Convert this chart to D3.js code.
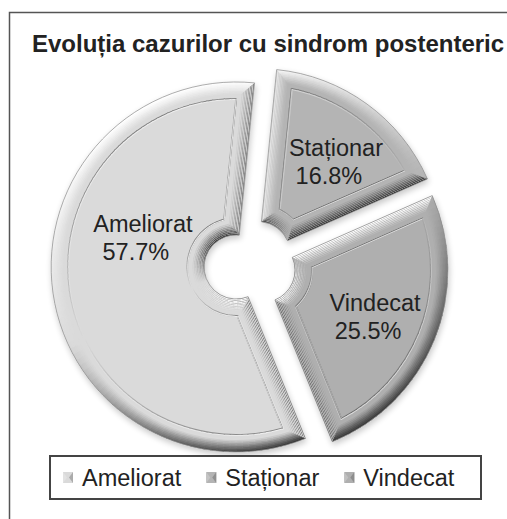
<!DOCTYPE html>
<html>
<head>
<meta charset="utf-8">
<script src="https://cdn.jsdelivr.net/npm/d3@7"></script>
<style>
  html, body { margin: 0; padding: 0; background: #fff; }
  svg { display: block; font-family: "Liberation Sans", Arial, sans-serif; }
</style>
</head>
<body>
<svg id="chart" width="507" height="519"></svg>
<script>
// data
var title = "Evoluția cazurilor cu sindrom postenteric";
var categories = ["Ameliorat", "Staționar", "Vindecat"];
var percents = [57.7, 16.8, 25.5];

var W = 507, H = 519;
var cx = 250, cy = 265, R = 185, r0 = 32, explode = 14;
var startDeg = 158;
var rad = Math.PI / 180;

var svg = d3.select("#chart");
var defs = svg.append("defs");

var color = d3.scaleOrdinal().domain(categories).range(["#dadada", "#b4b4b4", "#afafaf"]);
var fmt = function(v) { return d3.format(".1f")(v) + "%"; };

// soft shadow under the slices
var sh = defs.append("filter").attr("id", "shadow").attr("x", "-10%").attr("y", "-10%").attr("width", "120%").attr("height", "125%");
sh.append("feGaussianBlur").attr("in", "SourceAlpha").attr("stdDeviation", 3).attr("result", "b");
sh.append("feOffset").attr("in", "b").attr("dx", 1).attr("dy", 3).attr("result", "o");
sh.append("feComponentTransfer").attr("in", "o").attr("result", "s")
  .append("feFuncA").attr("type", "linear").attr("slope", 0.22);
var mg = sh.append("feMerge");
mg.append("feMergeNode").attr("in", "s");
mg.append("feMergeNode").attr("in", "SourceGraphic");

// frame
svg.append("path").attr("d", "M9.5," + H + "V12.5H" + W)
  .attr("fill", "none").attr("stroke", "#555").attr("stroke-width", 1.5);

svg.append("text").attr("x", 32).attr("y", 52)
  .attr("font-size", 24).attr("font-weight", "bold").attr("fill", "#222")
  .text(title);

var table = categories.map(function(c, i) { return { cat: c, v: percents[i] }; });
var pie = d3.pie().sort(null).value(function(d) { return d.v; })
  .startAngle(startDeg * rad).endAngle(startDeg * rad + 2 * Math.PI);
var arcs = pie(table);

// light comes from the top, a bit from the left
var light = [-0.42, -0.91];
function shade(base, nx, ny, amp) {
  var s = nx * light[0] + ny * light[1];
  return s >= 0 ? d3.interpolateRgb(base, "#ffffff")(Math.min(1, s * amp))
                : d3.interpolateRgb(base, "#3a3a3a")(Math.min(1, -s * amp));
}
function insetArc(k) {
  return d3.arc().innerRadius(r0 + k).outerRadius(R - k)
    .padAngle(k > 0 ? 0.02 : 0).padRadius(k > 0 ? k / Math.sin(0.01) : 0);
}
function pt(rr, a) { return [rr * Math.sin(a), -rr * Math.cos(a)]; }

var levels = [0, 1.5, 3, 4.5, 6, 7.5, 9, 10.5];
var amps   = [1.0, 0.88, 0.76, 0.64, 0.5, 0.36, 0.22, 0.1];
var faceInset = 12;
var clipN = 0;

function paintBand(g, d, base, k, k2, amp, sign) {
  var a0 = d.startAngle, a1 = d.endAngle;
  var id = "clip" + (clipN++);
  defs.append("clipPath").attr("id", id).append("path").attr("d", insetArc(k)(d));
  var lg = g.append("g").attr("clip-path", "url(#" + id + ")");
  var step = 2 * rad, a, b, m;
  var sector = d3.arc();
  for (a = a0; a < a1; a += step) {
    b = Math.min(a + step, a1); m = (a + b) / 2;
    lg.append("path")
      .attr("d", sector({ innerRadius: 0, outerRadius: R + 2, startAngle: a - 0.004, endAngle: b + 0.004 }))
      .attr("fill", shade(base, sign * Math.sin(m), -sign * Math.cos(m), amp));
  }
  for (a = a0; a < a1; a += step) {
    b = Math.min(a + step, a1); m = (a + b) / 2;
    lg.append("path")
      .attr("d", sector({ innerRadius: 0, outerRadius: r0 + k2, startAngle: a - 0.004, endAngle: b + 0.004 }))
      .attr("fill", shade(base, -sign * Math.sin(m), sign * Math.cos(m), amp));
  }
  [[a0, 1, [-Math.cos(a0), -Math.sin(a0)]], [a1, -1, [Math.cos(a1), Math.sin(a1)]]].forEach(function(e) {
    var an = e[0], dir = e[1], n = e[2];
    var q = [
      pt(R - k, an + dir * Math.asin(k / (R - k))),
      pt(r0 + k, an + dir * Math.asin(k / (r0 + k))),
      pt(r0 + k2, an + dir * Math.asin(k2 / (r0 + k2))),
      pt(R - k2, an + dir * Math.asin(k2 / (R - k2)))
    ];
    lg.append("path").attr("d", "M" + q.join("L") + "Z")
      .attr("fill", shade(base, sign * n[0], sign * n[1], amp));
  });
}

var slices = svg.append("g").attr("class", "slices").selectAll("g")
  .data(arcs).enter().append("g")
  .attr("filter", "url(#shadow)")
  .attr("transform", function(d) {
    var mid = (d.startAngle + d.endAngle) / 2;
    return "translate(" + (cx + explode * Math.sin(mid)) + "," + (cy - explode * Math.cos(mid)) + ")";
  });

slices.each(function(d) {
  var g = d3.select(this), base = color(d.data.cat);
  levels.forEach(function(k, li) {
    var k2 = li < levels.length - 1 ? levels[li + 1] : faceInset;
    paintBand(g, d, base, k, k2, amps[li], 1);
  });
  g.append("path").attr("d", insetArc(faceInset)(d)).attr("fill", base);
  paintBand(g, d, base, 16, 17, 0.55, -1);
  paintBand(g, d, base, 17, 18, 0.55, 1);
  g.append("path").attr("d", insetArc(18)(d)).attr("fill", base);
  g.append("path").attr("d", insetArc(0)(d)).attr("fill", "none")
    .attr("stroke", "#8a8a8a").attr("stroke-width", 0.7);
});

// data labels
var labelR = 121;
var labelTurn = { "Ameliorat": 26 * rad, "Staționar": 4 * rad };
var labelRad = { "Ameliorat": 98 };
var labels = svg.append("g").selectAll("text").data(arcs).enter().append("text")
  .attr("font-size", 23.5).attr("fill", "#222").attr("text-anchor", "middle")
  .attr("transform", function(d) {
    var mid = (d.startAngle + d.endAngle) / 2;
    var ox = cx + explode * Math.sin(mid), oy = cy - explode * Math.cos(mid);
    var a = mid + (labelTurn[d.data.cat] || 0), rr = labelRad[d.data.cat] || labelR;
    return "translate(" + (ox + rr * Math.sin(a)) + "," + (oy - rr * Math.cos(a)) + ")";
  });
labels.append("tspan").attr("x", 0).attr("y", -5).text(function(d) { return d.data.cat; });
labels.append("tspan").attr("x", -7).attr("y", 23).text(function(d) { return fmt(d.data.v); });

// legend
var leg = svg.append("g");
leg.append("rect").attr("x", 50).attr("y", 456).attr("width", 431).attr("height", 43)
  .attr("fill", "#fff").attr("stroke", "#444").attr("stroke-width", 2);
var lx = 63;
categories.forEach(function(c) {
  var base = color(c), x = lx, y = 472, s = 10;
  var it = leg.append("g");
  it.append("rect").attr("x", x).attr("y", y).attr("width", s).attr("height", s + 1).attr("fill", base);
  it.append("path").attr("d", "M" + x + "," + y + "L" + (x + 4) + "," + (y + 5.5) + "L" + x + "," + (y + s + 1) + "Z")
    .attr("fill", shade(base, -1, 0, 0.5));
  it.append("path").attr("d", "M" + (x + s) + "," + y + "L" + (x + s - 4) + "," + (y + 5.5) + "L" + (x + s) + "," + (y + s + 1) + "Z")
    .attr("fill", shade(base, 1, 0, 0.7));
  var t = it.append("text").attr("x", x + s + 9).attr("y", 486).attr("font-size", 23.5).attr("fill", "#222").text(c);
  lx = x + s + 9 + t.node().getComputedTextLength() + 25;
});
</script>
</body>
</html>
